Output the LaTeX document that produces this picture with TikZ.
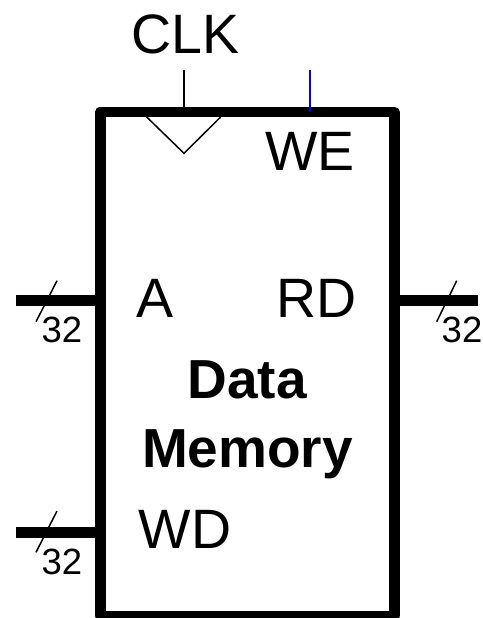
\documentclass[tikz,border=0pt]{standalone}
\usepackage{fontspec}
\setmainfont{Liberation Sans}
\begin{document}
\begin{tikzpicture}[x=1pt, y=-1pt, bus/.style={line width=11pt}, thin line/.style={line width=1.5pt}, lbl/.style={inner sep=0pt, anchor=base, font=\fontsize{55.5}{55.5}\selectfont}, boldlbl/.style={lbl, font=\fontsize{55}{55}\selectfont\bfseries}, buswidth/.style={inner sep=0pt, anchor=base, font=\fontsize{36.5}{36.5}\selectfont}]
		\useasboundingbox (0, 0) rectangle (482, 618);

		% Block
		\node[draw, line width=10.7pt, line join=round, minimum width=294pt, minimum height=504pt, inner sep=0pt] (mem) at (247.2, 364) {};

		% Clock wedge
		\coordinate (wedgeL) at (146.7, 117);
		\coordinate (wedgeR) at (220.7, 117);
		\coordinate (wedgeB) at (184, 153.3);
		\draw[thin line] (wedgeL) -- (wedgeB) -- (wedgeR);

		% Control lines
		\coordinate (clkin) at (184, 70);
		\coordinate (clkend) at (184, 107);
		\coordinate (wein) at (310, 70);
		\coordinate (weend) at (310, 112);
		\draw[thin line] (clkin) -- (clkend);
		\draw[thin line, blue] (wein) -- (weend);

		% Labels
		\node[lbl] (clklabel) at (185.5, 54) {CLK};
		\node[lbl] (welabel) at (310, 170) {WE};
		\node[lbl] (alabel) at (155, 317) {A};
		\node[lbl] (rdlabel) at (316.5, 317) {RD};
		\node[lbl] (wdlabel) at (185, 548) {WD};
		\node[boldlbl] (datalabel) at (247, 398) {Data};
		\node[boldlbl] (memorylabel) at (247.5, 467) {Memory};

		% Buses
		\coordinate (ain) at (16, 300);
		\coordinate (aend) at (100, 300);
		\coordinate (wdin) at (16, 532);
		\coordinate (wdend) at (100, 532);
		\coordinate (rdstart) at (394, 300);
		\coordinate (rdout) at (478, 300);
		\draw[bus] (ain) -- (aend);
		\draw[bus] (wdin) -- (wdend);
		\draw[bus] (rdstart) -- (rdout);

		% Bus width marks
		\draw[thin line] (36, 321.7) -- (57, 280.7);
		\draw[thin line] (36, 552.3) -- (57, 511);
		\draw[thin line] (436.7, 321.7) -- (456.7, 280.7);
		\node[buswidth] (awidth) at (62, 342) {32};
		\node[buswidth] (wdwidth) at (62, 574) {32};
		\node[buswidth] (rdwidth) at (462, 342) {32};
	\end{tikzpicture}
\end{document}
